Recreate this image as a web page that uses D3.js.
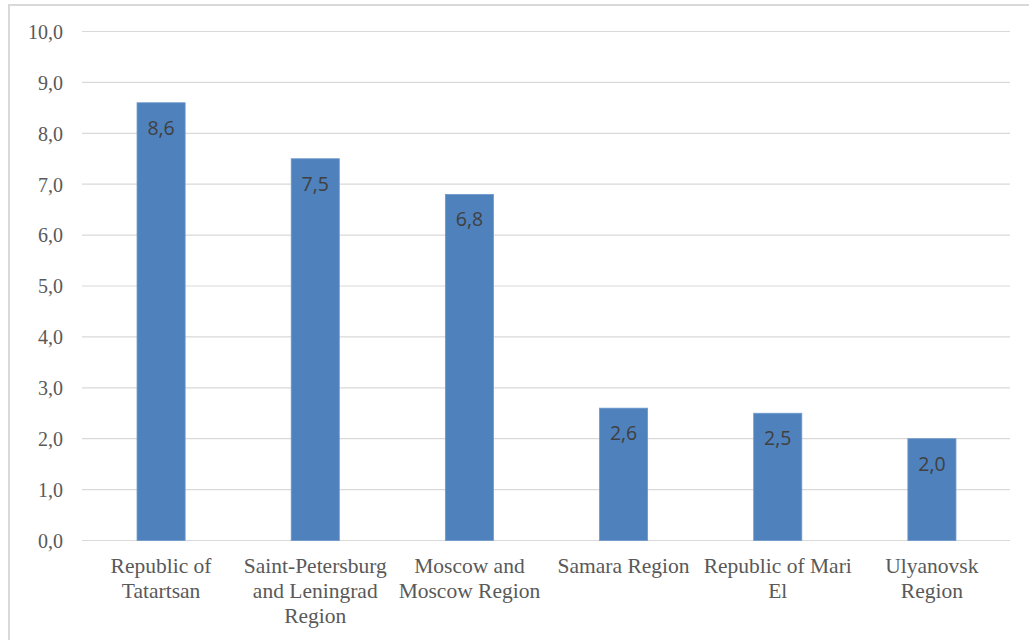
<!DOCTYPE html>
<html>
<head>
<meta charset="utf-8">
<script src="https://cdn.jsdelivr.net/npm/d3@7"></script>
<style>
  body { margin: 0; background: #fff; }
  svg { display: block; }
</style>
</head>
<body>
<div id="chart"></div>
<script>
// chart data
const regions = [
  ['Republic of', 'Tatartsan'],
  ['Saint-Petersburg', 'and Leningrad', 'Region'],
  ['Moscow and', 'Moscow Region'],
  ['Samara Region'],
  ['Republic of Mari', 'El'],
  ['Ulyanovsk', 'Region']
];
const values = [8.6, 7.5, 6.8, 2.6, 2.5, 2.0];
const yTicks = [0, 1, 2, 3, 4, 5, 6, 7, 8, 9, 10];

const width = 1029;
const height = 640;
const margin = { top: 31.5, right: 20, bottom: 99.5, left: 82 };
const serif = '"Liberation Serif", "Times New Roman", serif';

const fmt = v => d3.format('.1f')(v).replace('.', ',');

const svg = d3
  .select('#chart')
  .append('svg')
  .attr('width', width)
  .attr('height', height);

// outer chart frame (cut off on the right and bottom)
svg.append('rect')
  .attr('x', 9)
  .attr('y', 5)
  .attr('width', width + 20)
  .attr('height', height + 20)
  .attr('fill', 'none')
  .attr('stroke', '#d9d9d9')
  .attr('stroke-width', 2);

const x = d3
  .scaleBand()
  .domain(d3.range(regions.length))
  .range([84, 1009])
  .paddingInner(0.688)
  .paddingOuter(0.344);

const y = d3
  .scaleLinear()
  .domain([0, 10])
  .range([height - margin.bottom, margin.top]);

// gridlines
svg.append('g')
  .selectAll('line')
  .data(yTicks)
  .join('line')
  .attr('x1', margin.left)
  .attr('x2', 1010)
  .attr('y1', d => y(d))
  .attr('y2', d => y(d))
  .attr('stroke', '#d9d9d9')
  .attr('stroke-width', 1.2);

// y axis labels
const yAxis = svg.append('g')
  .attr('transform', `translate(${margin.left - 19},0)`)
  .call(d3.axisLeft(y).tickValues(yTicks).tickFormat(fmt).tickSize(0).tickPadding(0));
yAxis.select('.domain').remove();
yAxis.attr('font-family', null).attr('font-size', null);
yAxis.selectAll('text')
  .style('font-family', serif)
  .style('font-size', '20px')
  .attr('fill', '#595959')
  .attr('dy', '0.34em');

// bars
svg.append('g')
  .selectAll('rect')
  .data(values)
  .join('rect')
  .attr('x', (d, i) => x(i))
  .attr('y', d => y(d))
  .attr('width', x.bandwidth())
  .attr('height', d => y(0) - y(d))
  .attr('fill', '#4f81bd')
  .attr('stroke', '#6d98cc')
  .attr('stroke-width', 0.8);

// data labels inside the bar tops
svg.append('g')
  .selectAll('text')
  .data(values)
  .join('text')
  .attr('x', (d, i) => x(i) + x.bandwidth() / 2)
  .attr('y', d => y(d) + 32)
  .attr('text-anchor', 'middle')
  .style('font-family', '"Open Sans", "Liberation Sans", sans-serif')
  .style('font-size', '19.5px')
  .attr('fill', '#404040')
  .text(fmt);

// category labels
const labels = svg.append('g')
  .selectAll('text')
  .data(regions)
  .join('text')
  .attr('x', (d, i) => x(i) + x.bandwidth() / 2)
  .attr('y', 573)
  .attr('text-anchor', 'middle')
  .style('font-family', serif)
  .style('font-size', '21.5px')
  .attr('fill', '#595959');

labels.each(function (lines) {
  const t = d3.select(this);
  lines.forEach((line, k) => {
    t.append('tspan')
      .attr('x', t.attr('x'))
      .attr('dy', k === 0 ? 0 : 25)
      .text(line);
  });
});
</script>
</body>
</html>
